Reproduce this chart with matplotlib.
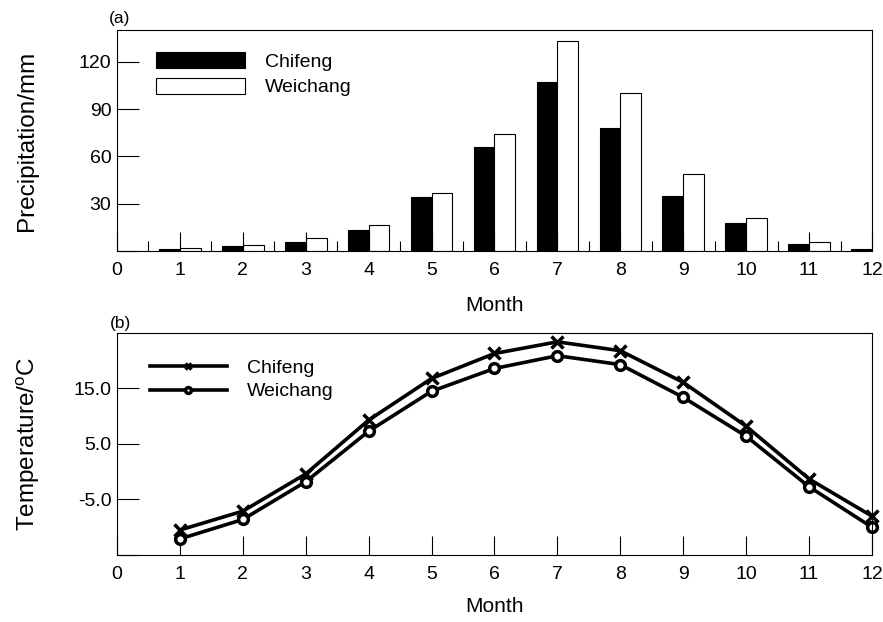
import matplotlib
matplotlib.use("Agg")
import matplotlib.pyplot as plt
import numpy as np

plt.rcParams['font.family'] = ['Liberation Sans Narrow', 'Liberation Sans', 'DejaVu Sans']

months = np.arange(1, 13)

# monthly precipitation (mm)
chifeng_prec = [1.5, 3, 6, 13.5, 34.5, 66, 107, 78, 35, 18, 4.5, 1.5]
weichang_prec = [2, 4, 8, 16.5, 36.5, 74, 133, 100, 49, 21, 5.5, 2]

# monthly mean temperature (C)
chifeng_temp = [-10.5, -7.1, -0.4, 9.3, 16.8, 21.3, 23.4, 21.8, 16.1, 8.2, -1.3, -8.0]
weichang_temp = [-12.1, -8.6, -1.8, 7.3, 14.5, 18.6, 20.9, 19.3, 13.4, 6.4, -2.7, -10.0]

fig = plt.figure(figsize=(8.83, 6.22), dpi=100)
ax1 = fig.add_axes([0.1325, 0.5965, 0.855, 0.355])
ax2 = fig.add_axes([0.1325, 0.1077, 0.855, 0.357])

wide = {'family': ['Liberation Sans', 'DejaVu Sans']}

# (a) precipitation
w = 0.33
ax1.bar(months - w / 2, chifeng_prec, w, color='black', edgecolor='black', lw=0.8, label='Chifeng')
ax1.bar(months + w / 2, weichang_prec, w, color='white', edgecolor='black', lw=0.8, label='Weichang')
ax1.set_xlim(0, 12)
ax1.set_ylim(0, 140)
ax1.set_yticks([0, 30, 60, 90, 120])
ax1.set_yticklabels(['', '30', '60', '90', '120'])
ax1.set_xticks(range(0, 13))
ax1.set_xticks(np.arange(0.5, 12, 1), minor=True)
ax1.set_ylabel('Precipitation/mm', fontsize=17.5)
ax1.yaxis.set_label_coords(-0.105, 0.5)
ax1.set_xlabel('Month', fontsize=15, labelpad=12, **wide)
ax1.legend(loc='upper left', frameon=False, handlelength=4.6,
           handleheight=0.9, bbox_to_anchor=(0.028, 0.98), labelspacing=0.35,
           handletextpad=1.0, prop={'family': ['Liberation Sans', 'DejaVu Sans'], 'size': 14})
ax1.text(0.004, 1.02, '(a)', transform=ax1.transAxes, fontsize=12.5, ha='center', va='bottom', **wide)

# (b) temperature
ax2.plot(months, chifeng_temp, color='black', lw=2.6, marker='x', ms=8, mew=2.5, label='Chifeng',
         clip_on=False)
ax2.plot(months, weichang_temp, color='black', lw=2.6, marker='o', ms=7, mew=2.5,
         mfc='white', label='Weichang', clip_on=False)
ax2.set_xlim(0, 12)
ax2.set_ylim(-15, 25)
ax2.set_yticks([-15, -5, 5, 15])
ax2.set_yticklabels(['', '-5.0', '5.0', '15.0'])
ax2.set_xticks(range(0, 13))
ax2.set_ylabel('Temperature/$\\mathregular{^{o}}$C', fontsize=17.5)
ax2.yaxis.set_label_coords(-0.1, 0.5)
ax2.set_xlabel('Month', fontsize=15, labelpad=10, **wide)
ax2.legend(loc='upper left', frameon=False, handlelength=4.0, bbox_to_anchor=(0.02, 0.96),
           labelspacing=0.3, handletextpad=1.0, markerscale=0.6,
           prop={'family': ['Liberation Sans', 'DejaVu Sans'], 'size': 14})
ax2.text(0.004, 1.01, '(b)', transform=ax2.transAxes, fontsize=12.5, ha='center', va='bottom', **wide)

for ax in (ax1, ax2):
    ax.tick_params(axis='x', which='major', direction='in', length=14, width=0.8,
                   labelsize=14, pad=8)
    ax.tick_params(axis='x', which='minor', direction='in', length=7, width=0.8)
    ax.tick_params(axis='y', direction='in', length=16, width=0.8, labelsize=14, pad=4)
    for s in ax.spines.values():
        s.set_linewidth(0.8)

fig.savefig('out.png', dpi=100)
